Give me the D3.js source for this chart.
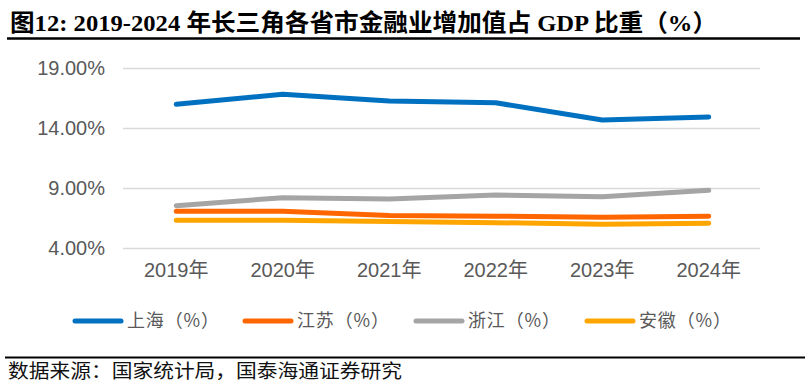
<!DOCTYPE html>
<html>
<head>
<meta charset="utf-8">
<script src="https://cdn.jsdelivr.net/npm/d3@7"></script>
<style>
  html, body { margin: 0; padding: 0; background: #fff; }
  svg { display: block; }
</style>
</head>
<body>
<svg id="chart" width="810" height="390"></svg>
<script>
const years = ["2019年", "2020年", "2021年", "2022年", "2023年", "2024年"];
const shanghai = [15.97, 16.81, 16.25, 16.10, 14.67, 14.92];
const jiangsu  = [7.06, 7.06, 6.70, 6.65, 6.56, 6.64];
const zhejiang = [7.53, 8.19, 8.08, 8.42, 8.28, 8.81];
const anhui    = [6.31, 6.31, 6.20, 6.11, 5.97, 6.06];
const yTicks = [4, 9, 14, 19];
const seriesNames = ["上海（%）", "江苏（%）", "浙江（%）", "安徽（%）"];
const seriesColors = ["#0070C0", "#FF6600", "#A5A5A5", "#FFA500"];
const titleText = "图12:  2019-2024 年长三角各省市金融业增加值占 GDP 比重（%）";
const sourceText = "数据来源：国家统计局，国泰海通证券研究";

const series = [shanghai, jiangsu, zhejiang, anhui];
const svg = d3.select("#chart");
const sansFont = "'Liberation Sans', Arial, 'Noto Sans CJK SC', sans-serif";
const cjkFont = "'Noto Sans CJK SC', sans-serif";

// Title
svg.append("text")
  .attr("x", 10).attr("y", 31)
  .attr("font-family", "'Liberation Serif', 'Times New Roman', 'Noto Sans CJK SC', serif")
  .attr("font-weight", "bold")
  .attr("font-size", 24)
  .attr("fill", "#000")
  .attr("textLength", 707)
  .attr("lengthAdjust", "spacingAndGlyphs")
  .text(titleText);
svg.append("line")
  .attr("x1", 7).attr("x2", 800).attr("y1", 38.5).attr("y2", 38.5)
  .attr("stroke", "#000").attr("stroke-width", 2.5);

// Scales
const x = d3.scaleBand().domain(years).range([123, 762]);
const y = d3.scaleLinear().domain([4, 19]).range([248, 68]);

// Gridlines
svg.append("g").selectAll("line").data(yTicks).join("line")
  .attr("x1", 123).attr("x2", 760)
  .attr("y1", d => Math.round(y(d)) + 0.5).attr("y2", d => Math.round(y(d)) + 0.5)
  .attr("stroke", "#D9D9D9").attr("stroke-width", 1.5);

// Y axis labels
const yAxis = d3.axisLeft(y).tickValues(yTicks).tickSize(0).tickPadding(0)
  .tickFormat(d => d3.format(".2f")(d) + "%");
const gy = svg.append("g").attr("transform", "translate(105,0)").call(yAxis);
gy.select(".domain").remove();
gy.selectAll("text")
  .attr("font-family", sansFont).attr("font-size", 20).attr("fill", "#595959");

// X axis labels
const xAxis = d3.axisBottom(x).tickSize(0).tickPadding(0);
const gx = svg.append("g").attr("transform", "translate(0,263)").call(xAxis);
gx.select(".domain").remove();
gx.selectAll("text")
  .attr("font-family", sansFont).attr("font-size", 20).attr("fill", "#595959");

// Lines
const line = d3.line()
  .x((d, i) => x(years[i]) + x.bandwidth() / 2)
  .y(d => y(d));
svg.append("g").selectAll("path").data(series).join("path")
  .attr("d", d => line(d))
  .attr("fill", "none")
  .attr("stroke", (d, i) => seriesColors[i])
  .attr("stroke-width", 5)
  .attr("stroke-linecap", "round")
  .attr("stroke-linejoin", "round");

// Legend
const legendX = [75, 245, 416, 587];
const lg = svg.append("g").selectAll("g").data(seriesNames).join("g")
  .attr("transform", (d, i) => `translate(${legendX[i]},321)`);
lg.append("line")
  .attr("x1", 0).attr("x2", 46).attr("y1", 0).attr("y2", 0)
  .attr("stroke", (d, i) => seriesColors[i])
  .attr("stroke-width", 5).attr("stroke-linecap", "round");
lg.append("text")
  .attr("x", 52).attr("y", 0).attr("dy", "0.36em")
  .attr("font-family", cjkFont).attr("font-size", 18).attr("fill", "#595959")
  .attr("textLength", 92)
  .attr("lengthAdjust", "spacing")
  .text(d => d);

// Footer
svg.append("line")
  .attr("x1", 5).attr("x2", 805).attr("y1", 357.5).attr("y2", 357.5)
  .attr("stroke", "#000").attr("stroke-width", 2);
svg.append("text")
  .attr("x", 8).attr("y", 378)
  .attr("font-family", cjkFont).attr("font-size", 19).attr("fill", "#111")
  .attr("textLength", 394)
  .attr("lengthAdjust", "spacingAndGlyphs")
  .text(sourceText);
</script>
</body>
</html>
